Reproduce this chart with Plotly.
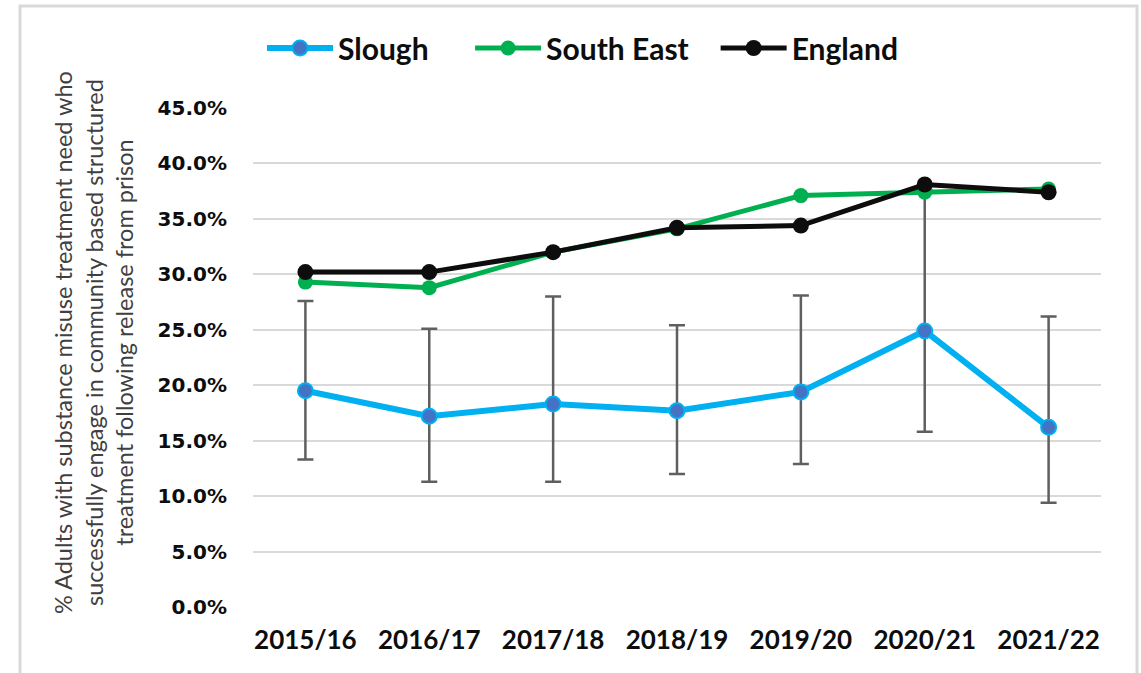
import plotly.graph_objects as go

# Financial years on the category axis
years = ["2015/16", "2016/17", "2017/18", "2018/19", "2019/20", "2020/21", "2021/22"]

# Share of adults engaging in community treatment after release (fractions)
slough = [0.195, 0.172, 0.183, 0.177, 0.194, 0.249, 0.162]
slough_upper = [0.276, 0.251, 0.280, 0.254, 0.281, 0.376, 0.262]
slough_lower = [0.133, 0.113, 0.113, 0.120, 0.129, 0.158, 0.094]
south_east = [0.293, 0.288, 0.320, 0.341, 0.371, 0.374, 0.377]
england = [0.302, 0.302, 0.320, 0.342, 0.344, 0.381, 0.374]

# Y-axis ticks
y_ticks = [0.0, 0.05, 0.10, 0.15, 0.20, 0.25, 0.30, 0.35, 0.40, 0.45]
y_tick_text = ["0.0%", "5.0%", "10.0%", "15.0%", "20.0%", "25.0%", "30.0%", "35.0%", "40.0%", "45.0%"]

y_title = ("% Adults with substance misuse treatment need who<br>"
           "successfully engage in community based structured<br>"
           "treatment following release from prison")

W, H = 1141, 673
ML, MR, MT, MB = 253, 40, 108, 66
PW, PH = W - ML - MR, H - MT - MB


def pad(n):
    # non-breaking spaces after a legend label to spread the entries out
    return "\u00a0" * n


def px_x(px):
    return (px - ML) / PW


def px_y(py):
    return (H - MB - py) / PH


fig = go.Figure()

fig.add_trace(go.Scatter(
    x=years, y=slough, name="Slough" + pad(5), mode="lines+markers",
    line=dict(color="#00B0F0", width=6),
    marker=dict(size=15, color="#4472C4", line=dict(color="#00B0F0", width=2)),
    error_y=dict(
        type="data", symmetric=False,
        array=[u - v for u, v in zip(slough_upper, slough)],
        arrayminus=[v - l for v, l in zip(slough, slough_lower)],
        color="#5F5F5F", thickness=2.5, width=8,
    ),
))
fig.add_trace(go.Scatter(
    x=years, y=south_east, name="South East" + pad(3), mode="lines+markers",
    line=dict(color="#00B050", width=5),
    marker=dict(size=15, color="#00B050"),
))
fig.add_trace(go.Scatter(
    x=years, y=england, name="England", mode="lines+markers",
    line=dict(color="#0D0D0D", width=5),
    marker=dict(size=16, color="#0D0D0D"),
))

fig.update_layout(
    width=W, height=H,
    margin=dict(l=ML, r=MR, t=MT, b=MB),
    paper_bgcolor="white", plot_bgcolor="white",
    showlegend=True,
    legend=dict(
        orientation="h", x=px_x(262), y=px_y(48), xanchor="left", yanchor="middle",
        font=dict(family="Lato", size=30, color="#0D0D0D", weight="bold"),
        itemwidth=66, bgcolor="rgba(0,0,0,0)",
    ),
    xaxis=dict(
        type="category", showgrid=False, zeroline=False, showline=False, ticks="",
        tickfont=dict(family="Lato", size=26, color="#0D0D0D", weight="bold"),
        ticklabelstandoff=15,
    ),
    yaxis=dict(
        range=[0, 0.45], tickvals=y_ticks, ticktext=y_tick_text,
        showgrid=True, gridcolor="#D9D9D9", gridwidth=2,
        zeroline=False, showline=False, ticks="",
        tickfont=dict(family="DejaVu Sans", size=20, color="#0D0D0D", weight="bold"),
        ticklabelstandoff=25,
    ),
    annotations=[dict(
        text=y_title, xref="paper", yref="paper",
        x=px_x(93), y=px_y(343), xanchor="center", yanchor="middle",
        textangle=-90, showarrow=False,
        font=dict(family="Lato", size=23.5, color="#404040"),
    )],
    shapes=[dict(
        type="rect", xref="paper", yref="paper",
        x0=px_x(20), x1=px_x(1137), y0=px_y(700), y1=px_y(6),
        line=dict(color="#D9D9D9", width=3), fillcolor="rgba(0,0,0,0)", layer="below",
    )],
)

fig.write_html("out.html")
